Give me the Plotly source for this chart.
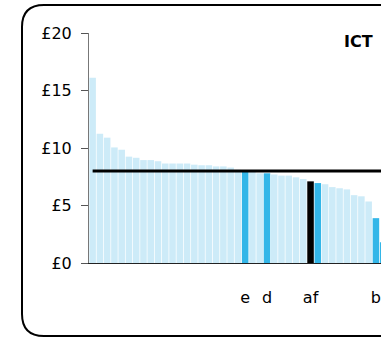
import plotly.graph_objects as go

# ---- data ----
values = [16.1, 11.25, 10.9, 10.05, 9.85, 9.25, 9.15, 8.95, 8.95, 8.85,
          8.65, 8.65, 8.65, 8.65, 8.55, 8.5, 8.5, 8.4, 8.4, 8.3,
          8.1, 8.0, 7.95, 7.8, 7.8, 7.7, 7.6, 7.6, 7.45, 7.3,
          7.1, 6.95, 6.85, 6.6, 6.5, 6.4, 5.9, 5.8, 5.35, 3.9, 1.8]
groups = (["base"] * 21 + ["hl"] + ["base"] * 2 + ["hl"] + ["base"] * 5
          + ["self", "hl"] + ["base"] * 7 + ["hl", "hl"])
labels = [""] * 21 + ["e", "", "", "d"] + [""] * 5 + ["af"] + [""] * 8 + ["b", ""]
threshold = [8.0] * len(values)
y_ticks = [0, 5, 10, 15, 20]
y_ticktext = ["£0", "£5", "£10", "£15", "£20"]
title_text = "ICT"

color_map = {"base": "#cdebf8", "hl": "#33b6e8", "self": "#000000"}
x_idx = list(range(len(values)))
tickvals = [i for i, l in enumerate(labels) if l]
ticktext = [l for l in labels if l]

W, H = 381, 337
ML, MR, MT, MB = 89, 0, 33, 74
PW, PH = W - ML - MR, H - MT - MB


def px(x):
    return (x - ML) / PW


def py(y):
    return 1 - (y - MT) / PH


fig = go.Figure()
fig.add_trace(go.Bar(
    x=x_idx, y=values,
    marker=dict(color=[color_map[g] for g in groups], line=dict(width=0)),
    hoverinfo="skip", showlegend=False,
))
fig.add_trace(go.Scatter(
    x=x_idx, y=threshold, mode="lines",
    line=dict(color="#000000", width=3),
    hoverinfo="skip", showlegend=False,
))

# rounded frame (paper coords)
L, T, R, B, r = 22, 5, 400, 336, 22
path = (f"M {px(L)},{py(T + r)} Q {px(L)},{py(T)} {px(L + r)},{py(T)} "
        f"L {px(R - r)},{py(T)} Q {px(R)},{py(T)} {px(R)},{py(T + r)} "
        f"L {px(R)},{py(B - r)} Q {px(R)},{py(B)} {px(R - r)},{py(B)} "
        f"L {px(L + r)},{py(B)} Q {px(L)},{py(B)} {px(L)},{py(B - r)} Z")
fig.add_shape(type="path", xref="paper", yref="paper", path=path,
              line=dict(color="#000000", width=2), layer="above")

fig.add_annotation(x=px(358), y=py(41), xref="paper", yref="paper",
                   text=f"<b>{title_text}</b>", showarrow=False,
                   font=dict(family="DejaVu Sans", size=16, color="#000000"),
                   xanchor="center", yanchor="middle")

fig.update_layout(
    width=W, height=H,
    margin=dict(l=ML, r=MR, t=MT, b=MB, pad=0),
    paper_bgcolor="white", plot_bgcolor="white",
    bargap=0.1,
    font=dict(family="DejaVu Sans", size=16, color="#000000"),
    xaxis=dict(range=[-0.5, 39.7], tickmode="array", tickvals=tickvals,
               ticktext=ticktext, showgrid=False, zeroline=False,
               showline=True, linecolor="#222222", linewidth=1,
               ticks="", ticklabelstandoff=20, automargin=False,
               fixedrange=True),
    yaxis=dict(range=[0, 20], tickmode="array", tickvals=y_ticks,
               ticktext=y_ticktext, showgrid=False, zeroline=False,
               showline=True, linecolor="#777777", linewidth=1,
               ticks="outside", ticklen=7, tickcolor="#555555",
               ticklabelstandoff=6, automargin=False, fixedrange=True),
)

fig.write_html("out.html", config={"displayModeBar": False},
               post_script="document.body.style.margin='0';document.body.style.overflow='hidden';")
